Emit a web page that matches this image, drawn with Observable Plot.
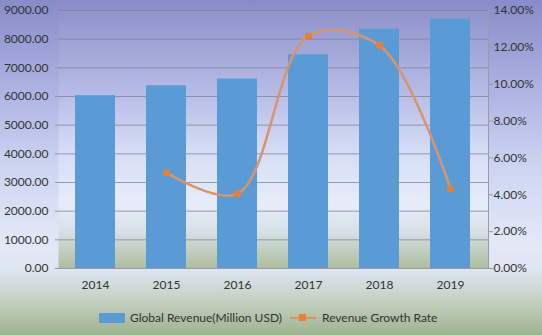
<!DOCTYPE html>
<html>
<head>
<meta charset="utf-8">
<script src="https://cdn.jsdelivr.net/npm/d3@7"></script>
<script src="https://cdn.jsdelivr.net/npm/@observablehq/plot@0.6"></script>
<style>
  html, body { margin: 0; padding: 0; }
  body {
    width: 542px; height: 335px; overflow: hidden;
    background: linear-gradient(to bottom, #878bc8 0%, #aab0e0 25%, #cdd5f2 50%, #e2e8f7 72%, #dfe6f2 80%, #c3d0c0 90%, #9eb38f 100%);
    font-family: Lato, "Open Sans", sans-serif;
  }
  #chart { position: relative; width: 542px; height: 300px; }
  #legend { position: relative; height: 35px; font-size: 12px; color: #333; }
  .lg { position: absolute; top: 10px; display: flex; align-items: center; }
</style>
</head>
<body>
<svg width="0" height="0" style="position:absolute">
  <defs>
    <linearGradient id="plotgrad" x1="0" y1="0" x2="0" y2="1">
      <stop offset="0" stop-color="#9093ca"/>
      <stop offset="0.3" stop-color="#b4b9e4"/>
      <stop offset="0.55" stop-color="#d6ddf5"/>
      <stop offset="0.75" stop-color="#e6ecf9"/>
      <stop offset="0.85" stop-color="#d9e1e8"/>
      <stop offset="1" stop-color="#aebd9c"/>
    </linearGradient>
  </defs>
</svg>
<div id="chart"></div>
<div id="legend">
  <div class="lg" style="left:99px"><span style="display:inline-block;width:26px;height:10px;background:#5b9bd5;margin-right:5px"></span>Global Revenue(Million USD)</div>
  <div class="lg" style="left:290px"><span style="position:relative;display:inline-block;width:26px;height:10px;margin-right:6px"><span style="position:absolute;left:0;top:4px;width:26px;height:2.5px;background:#e0915a"></span><span style="position:absolute;left:9px;top:1.5px;width:7px;height:7px;background:#ed7d31"></span></span>Revenue Growth Rate</div>
</div>
<script>
const years = ["2014", "2015", "2016", "2017", "2018", "2019"];
const revenue = [6030, 6375, 6610, 7455, 8350, 8700];
const growthYears = ["2015", "2016", "2017", "2018", "2019"];
const growth = [5.19, 4.05, 12.6, 12.1, 4.32];
const leftTicks = [0, 1000, 2000, 3000, 4000, 5000, 6000, 7000, 8000, 9000];
const rightTicks = [0, 2, 4, 6, 8, 10, 12, 14];

const yMax = 9000, pMax = 14;
const toY = p => p * yMax / pMax;

const bars = years.map((y, i) => ({year: y, value: revenue[i]}));
const rates = growthYears.map((y, i) => ({year: y, rate: growth[i], yv: toY(growth[i])}));

const chart = Plot.plot({
  width: 542,
  height: 300,
  marginLeft: 58,
  marginRight: 54,
  marginTop: 10,
  marginBottom: 32,
  style: {background: "transparent", fontFamily: "Lato, 'Open Sans', sans-serif", fontSize: "12px", color: "#333"},
  x: {domain: years, paddingInner: 0.43, paddingOuter: 0.215, label: null},
  y: {domain: [0, yMax], label: null},
  marks: [
    Plot.frame({fill: "url(#plotgrad)", stroke: null}),
    Plot.ruleY(leftTicks.slice(1), {stroke: "#80809a", strokeOpacity: 0.75, strokeWidth: 1}),
    Plot.barY(bars, {x: "year", y: "value", fill: "#5b9bd5"}),
    Plot.ruleY([0], {stroke: "#9a9aa8", strokeWidth: 1}),
    Plot.frame({anchor: "right", stroke: "#9a9aa8"}),
    Plot.axisY({ticks: leftTicks, tickFormat: d => d.toFixed(2), tickSize: 3, tickPadding: 7, stroke: "#9a9aa8", fill: "#333", fontSize: 12}),
    Plot.axisY({anchor: "right", ticks: rightTicks.map(toY), tickFormat: d => (d * pMax / yMax).toFixed(2) + "%", tickSize: 4, tickPadding: 1, stroke: "#9a9aa8", fill: "#333", fontSize: 12}),
    Plot.axisX({tickSize: 0, tickPadding: 12, fill: "#333", fontSize: 12}),
    Plot.line(rates, {x: "year", y: "yv", curve: "catmull-rom", stroke: "#d9956a", strokeWidth: 2.5}),
    Plot.dot(rates, {x: "year", y: "yv", symbol: "square", r: 3.6, fill: "#ed7d31", stroke: null})
  ]
});
document.getElementById("chart").appendChild(chart);
</script>
</body>
</html>
